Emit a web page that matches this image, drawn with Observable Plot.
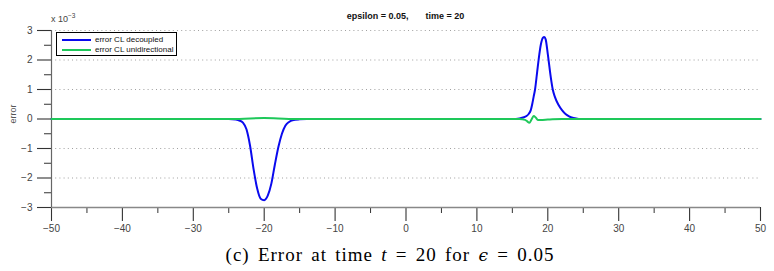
<!DOCTYPE html>
<html>
<head>
<meta charset="utf-8">
<script src="https://cdn.jsdelivr.net/npm/d3@7"></script>
<script src="https://cdn.jsdelivr.net/npm/@observablehq/plot@0.6"></script>
<style>
  html, body { margin: 0; padding: 0; background: #fff; }
  #wrap { position: relative; width: 774px; height: 271px; font-family: "Liberation Sans", Arimo, Helvetica, sans-serif; }
  #title { position: absolute; top: 11px; left: 51px; width: 709px; text-align: center; font-size: 9px; font-weight: bold; color: #111; white-space: pre; }
  #title span + span { margin-left: 17px; }
  #exp { position: absolute; top: 12px; left: 51px; font-size: 9px; color: #444; }
  #exp sup { font-size: 6.5px; }
  #ylab { position: absolute; left: 13px; top: 114px; font-size: 9px; color: #555; transform: translate(-50%, -50%) rotate(-90deg); }
  #legend { position: absolute; left: 56px; top: 32px; width: 119px; height: 22px; border: 1px solid #000; background: #fff; font-size: 8px; color: #111; }
  .li { position: absolute; left: 5px; height: 9px; display: flex; align-items: center; white-space: nowrap; }
  .li span.sw { display: inline-block; width: 29px; height: 2px; margin-right: 4px; }
  #caption { position: absolute; top: 244px; left: 0; width: 780px; text-align: center; font-family: "Liberation Serif", "DejaVu Serif", serif; font-size: 19px; letter-spacing: 1px; word-spacing: 2.5px; color: #000; }
  #caption .eps { font-family: "DejaVu Serif", serif; font-style: italic; font-size: 17px; }
  #chart { position: absolute; top: 0; left: 0; }
</style>
</head>
<body>
<div id="wrap">
  <div id="chart"></div>
  <div id="title"><span>epsilon = 0.05,</span><span>time = 20</span></div>
  <div id="exp">x 10<sup>−3</sup></div>
  <div id="ylab">error</div>
  <div id="legend"></div>
  <div id="caption">(c) Error at time <i>t</i> = 20 for <span class="eps">ϵ</span> = 0.05</div>
</div>
<script>
// values in units of 1e-3
const seriesNames = ["error CL decoupled", "error CL unidirectional"];
const seriesColors = ["#0a0aee", "#1ec85a"];

const decoupledX = [-50, -30, -25, -24, -23.5, -23, -22.5, -22, -21.5, -21, -20.5, -20, -19.5, -19, -18.5, -18, -17.5, -17, -16.5, -16, -15, -14,
  15, 16, 16.5, 17, 17.3, 17.6, 17.8, 18, 18.2, 18.5, 18.7, 19, 19.3, 19.5, 19.7, 20, 20.4, 20.7, 21, 21.5, 22, 22.5, 23, 23.5, 24, 24.5, 50];
const decoupledY = [0, 0, 0, -0.02, -0.05, -0.12, -0.35, -0.9, -1.7, -2.35, -2.7, -2.75, -2.6, -2.2, -1.55, -0.95, -0.5, -0.22, -0.1, -0.04, -0.01, 0,
  0, 0.02, 0.05, 0.1, 0.17, 0.3, 0.5, 0.75, 1.0, 1.6, 2.0, 2.5, 2.75, 2.78, 2.7, 2.2, 1.45, 1.0, 0.75, 0.48, 0.3, 0.17, 0.09, 0.04, 0.02, 0, 0];

const unidirX = [-50, -24, -22, -20, -18, -16, 16, 16.8, 17.1, 17.4, 17.7, 18, 18.3, 18.6, 19, 20, 22, 50];
const unidirY = [0, 0, 0.02, 0.03, 0.02, 0, 0, -0.03, -0.08, -0.13, -0.02, 0.1, 0.05, -0.03, -0.03, -0.02, 0, 0];

const xTicks = [-50, -40, -30, -20, -10, 0, 10, 20, 30, 40, 50];
const xMinor = [-45, -35, -25, -15, -5, 5, 15, 25, 35, 45];
const yTicks = [-3, -2, -1, 0, 1, 2, 3];
const yMinor = [-2.5, -1.5, -0.5, 0.5, 1.5, 2.5];
const yGrid = [-2, -1, 1, 2, 3];

const dec = decoupledX.map((x, i) => ({x, y: decoupledY[i]}));
const uni = unidirX.map((x, i) => ({x, y: unidirY[i]}));
const fmt = d => d < 0 ? "−" + (-d) : String(d);

const plot = Plot.plot({
  width: 774,
  height: 242,
  marginLeft: 51,
  marginRight: 14,
  marginTop: 30,
  marginBottom: 35,
  x: {domain: [-50, 50]},
  y: {domain: [-3, 3]},
  style: {fontFamily: "'Liberation Sans', Arimo, Helvetica, sans-serif", fontSize: "10px", background: "white", overflow: "visible"},
  marks: [
    Plot.ruleY(yGrid, {stroke: "#888", strokeDasharray: "1,3.2", strokeWidth: 0.8}),
    Plot.axisX({ticks: xTicks, tickSize: 14, tickPadding: 3, tickFormat: fmt, label: null, stroke: "#333", color: "#444", strokeWidth: 1.1}),
    Plot.axisX({ticks: xMinor, tickSize: 6, tickFormat: () => "", label: null, stroke: "#333"}),
    Plot.axisY({ticks: yTicks, tickSize: 14, tickPadding: 5, tickFormat: fmt, label: null, stroke: "#333", color: "#444", strokeWidth: 1.1}),
    Plot.axisY({ticks: yMinor, tickSize: 7, tickFormat: () => "", label: null, stroke: "#333"}),
    Plot.ruleY([-3], {stroke: "#888", strokeWidth: 1.5}),
    Plot.ruleX([-50], {stroke: "#666", strokeWidth: 1.2}),
    Plot.line(dec, {x: "x", y: "y", stroke: seriesColors[0], strokeWidth: 2, curve: "monotone-x"}),
    Plot.line(uni, {x: "x", y: "y", stroke: seriesColors[1], strokeWidth: 2, curve: "monotone-x"})
  ]
});
document.getElementById("chart").appendChild(plot);

const leg = document.getElementById("legend");
seriesNames.forEach((name, i) => {
  const row = document.createElement("div");
  row.className = "li";
  row.style.top = (i === 0 ? 2 : 12) + "px";
  row.innerHTML = `<span class="sw" style="background:${seriesColors[i]}"></span>${name}`;
  leg.appendChild(row);
});
</script>
</body>
</html>
